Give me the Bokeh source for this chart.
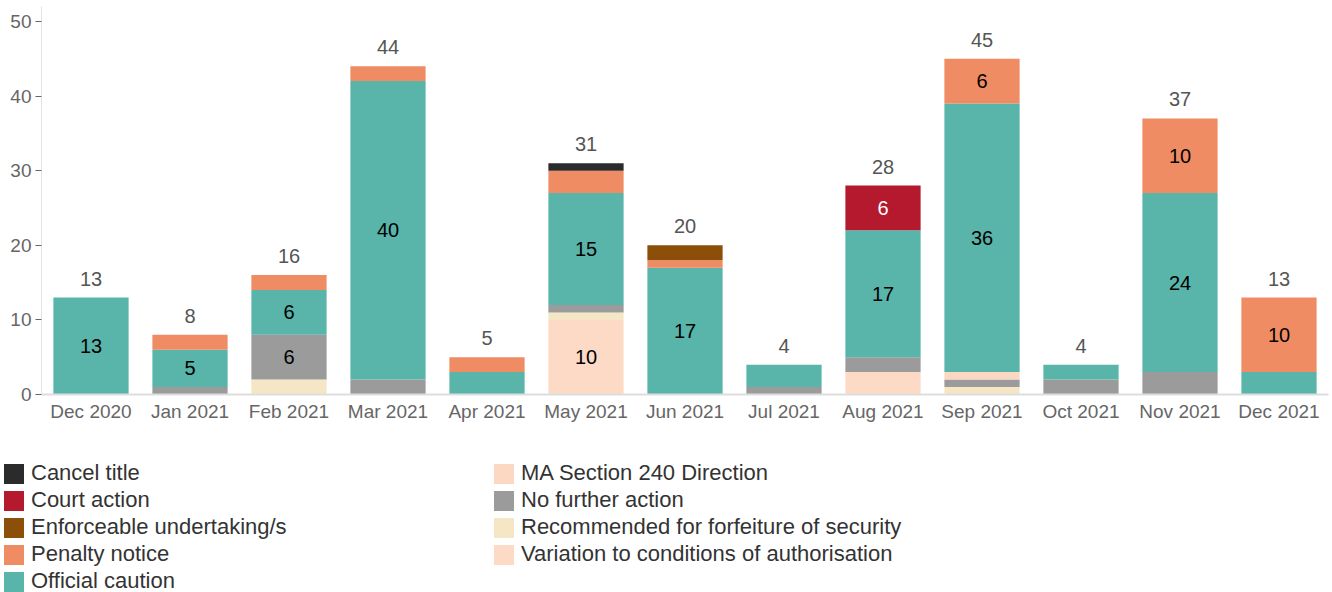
from bokeh.plotting import figure
from bokeh.layouts import column
from bokeh.models import (ColumnDataSource, Range1d, FactorRange, FixedTicker,
                          Legend, LegendItem)
from bokeh.core.properties import value
from bokeh.embed import file_html
from bokeh.resources import INLINE

months = ["Dec 2020", "Jan 2021", "Feb 2021", "Mar 2021", "Apr 2021", "May 2021",
          "Jun 2021", "Jul 2021", "Aug 2021", "Sep 2021", "Oct 2021", "Nov 2021",
          "Dec 2021"]

# stacked bottom -> top
variation   = [0, 0, 0, 0, 0, 10, 0, 0, 3, 0, 0, 0, 0]
recommended = [0, 0, 2, 0, 0, 1, 0, 0, 0, 1, 0, 0, 0]
no_further  = [0, 1, 6, 2, 0, 1, 0, 1, 2, 1, 2, 3, 0]
ma_section  = [0, 0, 0, 0, 0, 0, 0, 0, 0, 1, 0, 0, 0]
official    = [13, 5, 6, 40, 3, 15, 17, 3, 17, 36, 2, 24, 3]
penalty     = [0, 2, 2, 2, 2, 3, 1, 0, 0, 6, 0, 10, 10]
enforceable = [0, 0, 0, 0, 0, 0, 2, 0, 0, 0, 0, 0, 0]
court       = [0, 0, 0, 0, 0, 0, 0, 0, 6, 0, 0, 0, 0]
cancel      = [0, 0, 0, 0, 0, 1, 0, 0, 0, 0, 0, 0, 0]

series_keys = ["variation", "recommended", "no_further", "ma_section", "official",
               "penalty", "enforceable", "court", "cancel"]
series_vals = [variation, recommended, no_further, ma_section, official,
               penalty, enforceable, court, cancel]
series_names = ["Variation to conditions of authorisation",
                "Recommended for forfeiture of security",
                "No further action", "MA Section 240 Direction", "Official caution",
                "Penalty notice", "Enforceable undertaking/s", "Court action",
                "Cancel title"]
series_colors = ["#fcdac6", "#f5e7c5", "#9b9b9b", "#fcd8c3", "#59b4aa",
                 "#f08c63", "#8b4f0a", "#b5192e", "#2b2b2b"]
label_colors = ["black", "black", "black", "black", "black",
                "black", "white", "white", "white"]

yticks = [0, 10, 20, 30, 40, 50]

FONT = "Liberation Sans"

data = {"months": months}
for k, v in zip(series_keys, series_vals):
    data[k] = v
source = ColumnDataSource(data)

p = figure(x_range=FactorRange(*months, range_padding=0), y_range=Range1d(0, 52.0),
           width=1332, height=452, output_backend="svg", toolbar_location=None,
           min_border_left=41, min_border_right=4, min_border_top=6,
           min_border_bottom=58)

p.vbar_stack(series_keys, x="months", width=0.76, source=source,
             color=series_colors, line_color=None)

# segment labels (values >= 5)
lx, ly, lt, lc = [], [], [], []
totals = [0] * len(months)
for vals, col in zip(series_vals, label_colors):
    for i, v in enumerate(vals):
        if v >= 5:
            lx.append(months[i])
            ly.append(totals[i] + v / 2)
            lt.append(str(v))
            lc.append(col)
        totals[i] += v
p.text(x=lx, y=ly, text=lt, text_color=lc, text_align="center",
       text_baseline="middle", text_font=value(FONT), text_font_size="20px")

# totals above bars
p.text(x=months, y=totals, text=[str(t) for t in totals], text_color="#555555",
       text_align="center", text_baseline="alphabetic", y_offset=-19,
       text_font=value(FONT), text_font_size="20px")

p.xgrid.visible = False
p.ygrid.visible = False
p.outline_line_color = None

p.yaxis.ticker = FixedTicker(ticks=yticks)
p.yaxis.axis_line_color = "#e3e3e3"
p.yaxis.major_tick_line_color = "#666666"
p.yaxis.major_tick_out = 6
p.yaxis.major_tick_in = 0
p.yaxis.minor_tick_line_color = None
p.yaxis.major_label_standoff = 4
p.yaxis.major_label_text_font = FONT
p.yaxis.major_label_text_font_size = "19px"
p.yaxis.major_label_text_color = "#666666"

p.xaxis.axis_line_color = "#dddddd"
p.xaxis.axis_line_width = 2
p.xaxis.major_tick_line_color = None
p.xaxis.minor_tick_line_color = None
p.xaxis.major_label_standoff = 0
p.xaxis.major_label_text_font = FONT
p.xaxis.major_label_text_font_size = "19px"
p.xaxis.major_label_text_color = "#666666"

# legend area
lg = figure(width=1332, height=140, output_backend="svg", toolbar_location=None,
            x_range=Range1d(0, 1), y_range=Range1d(0, 1),
            x_axis_location=None, y_axis_location=None,
            min_border=0, outline_line_color=None)
lg.xgrid.visible = False
lg.ygrid.visible = False

rmap = {}
for name, colr in zip(series_names, series_colors):
    # off-screen proxy glyph, only used for the legend swatch
    rmap[name] = lg.vbar(x=[-5], top=[-5], bottom=[-6], width=1, color=colr,
                         line_color=None)

col1 = ["Cancel title", "Court action", "Enforceable undertaking/s",
        "Penalty notice", "Official caution"]
col2 = ["MA Section 240 Direction", "No further action",
        "Recommended for forfeiture of security",
        "Variation to conditions of authorisation"]


def make_legend(names, loc):
    return Legend(items=[LegendItem(label=n, renderers=[rmap[n]]) for n in names],
                  location=loc, orientation="vertical", padding=0, margin=0,
                  spacing=1, glyph_width=25, glyph_height=25, label_standoff=5,
                  label_text_font=FONT, label_text_font_size="22px",
                  label_text_color="#333333", border_line_color=None,
                  background_fill_alpha=0)


lg.add_layout(make_legend(col1, (1, -2)), "center")
lg.add_layout(make_legend(col2, (491, 25)), "center")

layout = column(p, column(lg, spacing=0), spacing=0)

open("out.html", "w").write(file_html(layout, INLINE))
